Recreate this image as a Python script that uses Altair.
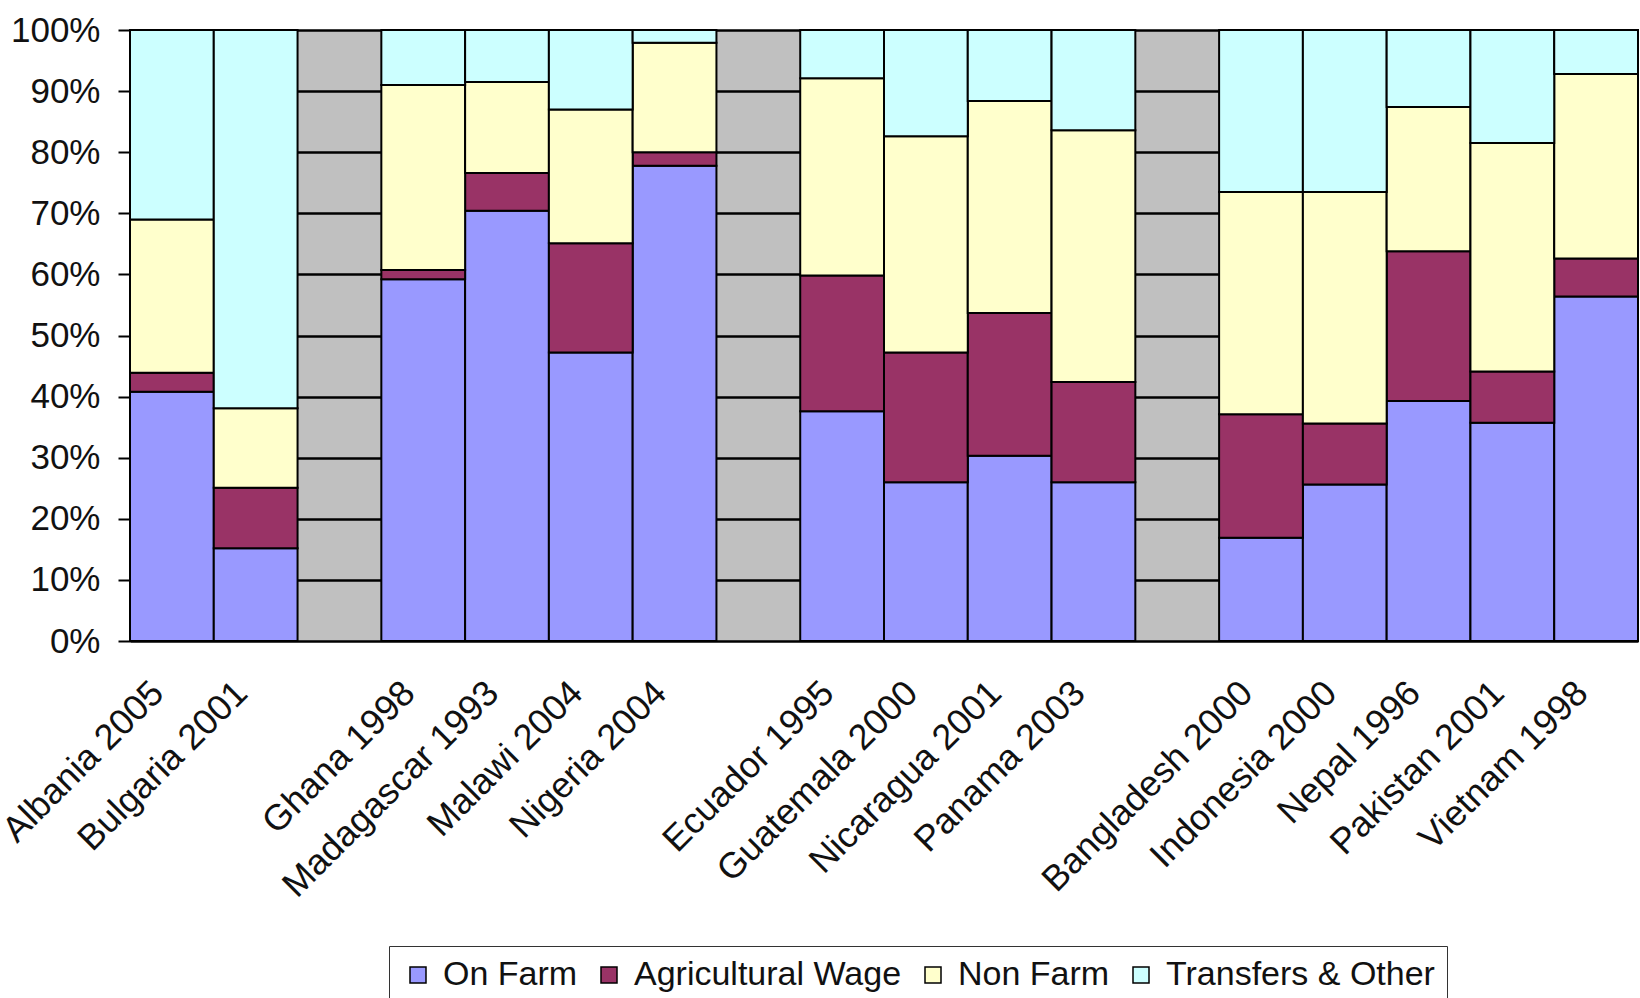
import altair as alt
import pandas as pd

slots = ["Albania 2005", "Bulgaria 2001", " ", "Ghana 1998", "Madagascar 1993",
         "Malawi 2004", "Nigeria 2004", "  ", "Ecuador 1995", "Guatemala 2000",
         "Nicaragua 2001", "Panama 2003", "   ", "Bangladesh 2000", "Indonesia 2000",
         "Nepal 1996", "Pakistan 2001", "Vietnam 1998"]
countries = [s for s in slots if s.strip()]

series = ["On Farm", "Agricultural Wage", "Non Farm", "Transfers & Other"]
colors = ["#9999FF", "#993366", "#FFFFCC", "#CCFFFF"]

on_farm = [40.8, 15.2, 59.2, 70.4, 47.2, 77.8, 37.6, 26.0, 30.3, 26.0, 16.9, 25.6, 39.3, 35.7, 56.4]
ag_wage = [3.1, 9.9, 1.5, 6.2, 17.9, 2.2, 22.2, 21.2, 23.4, 16.4, 20.2, 10.0, 24.5, 8.4, 6.2]
non_farm = [25.1, 13.0, 30.3, 14.9, 21.9, 17.9, 32.3, 35.4, 34.7, 41.2, 36.4, 37.9, 23.6, 37.4, 30.2]
transfers = [31.0, 61.9, 9.0, 8.5, 13.0, 2.1, 7.9, 17.4, 11.6, 16.4, 26.5, 26.5, 12.6, 18.5, 7.2]

rows = []
for vals, name in zip([on_farm, ag_wage, non_farm, transfers], series):
    for c, v in zip(countries, vals):
        rows.append({"country": c, "series": name, "value": v, "order": series.index(name)})
df = pd.DataFrame(rows)

FONT = "Liberation Sans"

chart = alt.Chart(df).mark_bar(stroke="black", strokeWidth=2).encode(
    x=alt.X("country:N", sort=slots,
            scale=alt.Scale(domain=slots, paddingInner=0, paddingOuter=0),
            axis=alt.Axis(title=None, labelAngle=-45, labelAlign="right",
                          labelBaseline="middle", labelPadding=46, ticks=False,
                          labelOffset=-14,
                          domain=False, labelFontSize=36, labelFont=FONT,
                          labelColor="#111", labelLimit=600)),
    y=alt.Y("value:Q", stack="normalize",
            scale=alt.Scale(domain=[0, 1], nice=False),
            axis=alt.Axis(title=None, format=".0%", values=[i / 10 for i in range(11)],
                          tickSize=12, tickColor="black", tickWidth=2,
                          domainColor="black", domainWidth=2,
                          grid=True, gridColor="black", gridWidth=2.5,
                          labelPadding=18, labelFontSize=35, labelFont=FONT,
                          labelColor="#111")),
    color=alt.Color("series:N", sort=series,
                    scale=alt.Scale(domain=series, range=colors),
                    legend=alt.Legend(title=None, orient="none", direction="horizontal",
                                      legendX=259, legendY=916,
                                      symbolType="square", symbolSize=256,
                                      symbolStrokeColor="black", symbolStrokeWidth=1.5,
                                      labelFontSize=34, labelFont=FONT, labelColor="#111",
                                      labelOffset=8, columnPadding=14, labelLimit=600,
                                      padding=12, strokeColor="#333", fillColor="white")),
    order=alt.Order("order:Q"),
).properties(
    width=1508, height=611,
    background="white",
    autosize=alt.AutoSizeParams(type="none"),
    padding={"left": 130, "top": 30, "right": 2, "bottom": 357},
).configure_view(
    fill="#C0C0C0", stroke=None
)

chart.save("out.html", embed_options={"renderer": "svg", "actions": False})
